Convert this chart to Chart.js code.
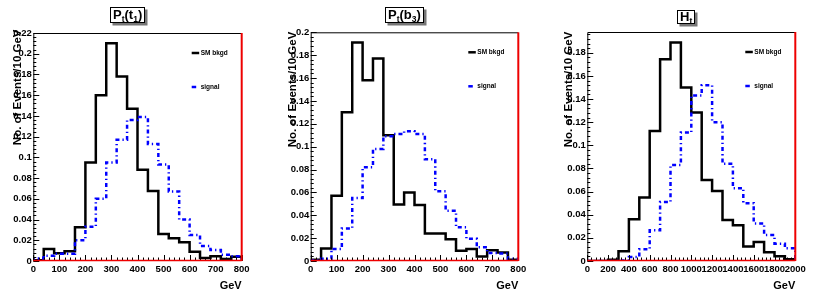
<!DOCTYPE html>
<html>
<head>
<meta charset="utf-8">
<script src="https://cdn.jsdelivr.net/npm/chart.js@4.4.1/dist/chart.umd.min.js"></script>
<style>
  body { margin: 0; background: #fff; width: 830px; height: 293px; overflow: hidden; position: relative; font-family: "Liberation Sans", Arial, sans-serif; }
  canvas { position: absolute; top: 0; }
  .ttl { position: absolute; background: #fff; border: 1px solid #000; box-shadow: 2.5px 2.5px 0 #777;
         font: bold 13px "Liberation Sans", Arial, sans-serif; line-height: 14px; padding: 0 2px; white-space: nowrap; }
  .ttl sub { font-size: 8.5px; vertical-align: -3px; line-height: 0; }
</style>
</head>
<body>
<canvas id="c1" width="277" height="293" style="left:0px"></canvas>
<canvas id="c2" width="277" height="293" style="left:277px"></canvas>
<canvas id="c3" width="277" height="293" style="left:553px"></canvas>
<div class="ttl" style="left:110px;top:7px">P<sub>t</sub>(t<sub>1</sub>)</div>
<div class="ttl" style="left:385px;top:7px">P<sub>t</sub>(b<sub>3</sub>)</div>
<div class="ttl" style="left:677px;top:10px;line-height:12px">H<sub>t</sub></div>
<script>
// bin edges (GeV)
var ptT1Edges = [0, 40, 80, 120, 160, 200, 240, 280, 320, 360, 400, 440, 480, 520, 560, 600, 640, 680, 720, 760, 800];
var ptB3Edges = [0, 40, 80, 120, 160, 200, 240, 280, 320, 360, 400, 440, 480, 520, 560, 600, 640, 680, 720, 760, 800];
var htEdges = [0, 100, 200, 300, 400, 500, 600, 700, 800, 900, 1000, 1100, 1200, 1300, 1400, 1500, 1600, 1700, 1800, 1900, 2000];

// Pt(t1)
var ptT1Bkgd = [0.0008, 0.0115, 0.0075, 0.0095, 0.0325, 0.095, 0.160, 0.210, 0.178, 0.147, 0.088, 0.0675, 0.026, 0.022, 0.018, 0.009, 0.003, 0.0045, 0.002, 0.004];
var ptT1Signal = [0.0025, 0.005, 0.007, 0.007, 0.020, 0.033, 0.060, 0.095, 0.117, 0.136, 0.139, 0.113, 0.093, 0.067, 0.040, 0.025, 0.0145, 0.0105, 0.006, 0.0045];

// Pt(b3)
var ptB3Bkgd = [0.001, 0.011, 0.057, 0.130, 0.191, 0.158, 0.177, 0.110, 0.0495, 0.060, 0.049, 0.024, 0.024, 0.019, 0.009, 0.0105, 0.004, 0.0095, 0.0075, 0.001];
var ptB3Signal = [0.0005, 0.002, 0.0105, 0.0285, 0.055, 0.082, 0.098, 0.109, 0.111, 0.1135, 0.111, 0.089, 0.061, 0.044, 0.0295, 0.0195, 0.012, 0.007, 0.0065, 0.002];

// Ht
var htBkgd = [0, 0, 0.001, 0.0085, 0.036, 0.055, 0.1125, 0.1745, 0.189, 0.150, 0.1285, 0.070, 0.0605, 0.0355, 0.031, 0.0125, 0.0165, 0.0075, 0.004, 0.0015];
var htSignal = [0, 0, 0, 0.0005, 0.0035, 0.0101, 0.0265, 0.051, 0.083, 0.111, 0.143, 0.152, 0.120, 0.084, 0.063, 0.050, 0.0325, 0.0225, 0.015, 0.011];

// axis tick labels
var ptXTicks = [0, 100, 200, 300, 400, 500, 600, 700, 800];
var htXTicks = [0, 200, 400, 600, 800, 1000, 1200, 1400, 1600, 1800, 2000];
var ptT1YTicks = [0, 0.02, 0.04, 0.06, 0.08, 0.1, 0.12, 0.14, 0.16, 0.18, 0.2, 0.22];
var ptB3YTicks = [0, 0.02, 0.04, 0.06, 0.08, 0.1, 0.12, 0.14, 0.16, 0.18, 0.2];
var htYTicks = [0, 0.02, 0.04, 0.06, 0.08, 0.1, 0.12, 0.14, 0.16, 0.18];

var seriesNames = ['SM bkgd', 'signal'];
var yTitle = 'No. of Events/10 GeV';
var xTitle = 'GeV';

var FONT = '"Liberation Sans", Arial, sans-serif';

// histogram outline points for a stepped line
function histPoints(edges, vals) {
  var pts = [{ x: edges[0], y: 0 }];
  vals.forEach(function (v, i) { pts.push({ x: edges[i], y: v }); });
  pts.push({ x: edges[edges.length - 1], y: 0 });
  return pts;
}

// ROOT-like frame, inward ticks, legend and axis titles
var rootPlugin = {
  id: 'rootFrame',
  afterDatasetsDraw: function (chart, args, o) {
    var ctx = chart.ctx, a = chart.chartArea, x = chart.scales.x, y = chart.scales.y;
    ctx.save();
    ctx.strokeStyle = '#000';
    ctx.lineWidth = 1;
    ctx.beginPath();
    var i, v, p, len;
    for (i = 0; ; i++) {
      v = x.min + i * o.xMinor;
      if (v > x.max + 1e-9) break;
      p = Math.round(x.getPixelForValue(v)) + 0.5;
      len = i % 5 === 0 ? 6 : 3.5;
      ctx.moveTo(p, a.bottom);
      ctx.lineTo(p, a.bottom - len);
    }
    for (i = 0; ; i++) {
      v = i * o.yMinor;
      if (v > y.max + 1e-9) break;
      p = Math.round(y.getPixelForValue(v)) + 0.5;
      len = i % 5 === 0 ? 6 : 3;
      ctx.moveTo(a.left, p);
      ctx.lineTo(a.left + len, p);
    }
    ctx.stroke();

    // frame
    ctx.beginPath();
    ctx.moveTo(a.left + 0.5, a.bottom);
    ctx.lineTo(a.left + 0.5, a.top + 0.5);
    ctx.lineTo(a.right, a.top + 0.5);
    ctx.stroke();
    ctx.strokeStyle = '#ee0000';
    ctx.lineWidth = 2;
    ctx.beginPath();
    ctx.moveTo(a.right, a.top);
    ctx.lineTo(a.right, a.bottom);
    ctx.stroke();
    ctx.lineWidth = 1.5;
    ctx.beginPath();
    ctx.moveTo(a.left, a.bottom - 0.5);
    ctx.lineTo(a.right, a.bottom - 0.5);
    ctx.stroke();

    // legend
    var ds = chart.data.datasets;
    var legY = [a.top + 20, a.top + 54];
    ctx.font = 'bold 6.5px ' + FONT;
    ctx.textBaseline = 'middle';
    ctx.textAlign = 'left';
    ctx.fillStyle = '#000';
    ctx.lineWidth = 2.5;
    ctx.strokeStyle = ds[0].borderColor;
    ctx.beginPath();
    ctx.moveTo(a.right - 50, legY[0]);
    ctx.lineTo(a.right - 42.5, legY[0]);
    ctx.stroke();
    ctx.fillText(ds[0].label, a.right - 41, legY[0]);
    ctx.strokeStyle = ds[1].borderColor;
    ctx.beginPath();
    ctx.moveTo(a.right - 50, legY[1]);
    ctx.lineTo(a.right - 45.5, legY[1]);
    ctx.stroke();
    ctx.fillText(ds[1].label, a.right - 41, legY[1]);

    // x title
    ctx.font = 'bold 11px ' + FONT;
    ctx.textAlign = 'right';
    ctx.textBaseline = 'top';
    ctx.fillText(xTitle, a.right, a.bottom + 19);

    // y title
    ctx.save();
    ctx.translate(a.left - o.yTitleGap, o.yTitleEnd);
    ctx.rotate(-Math.PI / 2);
    ctx.font = 'bold 11.5px ' + FONT;
    ctx.textAlign = 'right';
    ctx.textBaseline = 'alphabetic';
    ctx.fillText(yTitle, 0, 0);
    ctx.restore();

    ctx.restore();
  }
};

function makeHist(id, p) {
  var W = 277, H = 293;
  return new Chart(document.getElementById(id), {
    type: 'line',
    data: {
      datasets: [{
        label: seriesNames[0],
        data: histPoints(p.edges, p.bkgd),
        borderColor: '#000000',
        borderWidth: 2.5,
        stepped: true,
        pointRadius: 0,
        fill: false,
        order: 2
      }, {
        label: seriesNames[1],
        data: histPoints(p.edges, p.signal),
        borderColor: '#0000ff',
        borderWidth: 2.5,
        borderDash: [4, 3, 1.3, 3],
        stepped: true,
        pointRadius: 0,
        fill: false,
        order: 1
      }]
    },
    options: {
      responsive: false,
      animation: false,
      events: [],
      layout: { padding: { left: 0, top: p.top, right: W - p.right, bottom: 0 } },
      plugins: {
        legend: { display: false },
        tooltip: { enabled: false },
        rootFrame: { xMinor: p.xMinor, yMinor: 0.004, yTitleGap: p.yTitleGap, yTitleEnd: p.yTitleEnd }
      },
      scales: {
        x: {
          type: 'linear',
          min: p.edges[0],
          max: p.edges[p.edges.length - 1],
          grid: { display: false, drawTicks: false },
          border: { display: false },
          afterFit: function (s) { s.height = H - 261; },
          afterBuildTicks: function (s) { s.ticks = p.xTicks.map(function (v) { return { value: v }; }); },
          ticks: {
            autoSkip: false, maxRotation: 0, minRotation: 0, padding: 3, color: '#000',
            font: { family: FONT, size: 9.5, weight: 'bold' },
            callback: function (v) { return String(v); }
          }
        },
        y: {
          type: 'linear',
          min: 0,
          max: p.yMax,
          grid: { display: false, drawTicks: false },
          border: { display: false },
          afterFit: function (s) { s.width = p.left; },
          afterBuildTicks: function (s) { s.ticks = p.yTicks.map(function (v) { return { value: v }; }); },
          ticks: {
            padding: 1.5, color: '#000',
            font: { family: FONT, size: 9.5, weight: 'bold' },
            callback: function (v) { return String(+v.toFixed(3)); }
          }
        }
      }
    },
    plugins: [rootPlugin]
  });
}

makeHist('c1', { edges: ptT1Edges, bkgd: ptT1Bkgd, signal: ptT1Signal, xTicks: ptXTicks, yTicks: ptT1YTicks,
  yMax: 0.22, xMinor: 20, left: 33.3, right: 241.7, top: 33, yTitleGap: 12.6, yTitleEnd: 29.5 });
makeHist('c2', { edges: ptB3Edges, bkgd: ptB3Bkgd, signal: ptB3Signal, xTicks: ptXTicks, yTicks: ptB3YTicks,
  yMax: 0.2, xMinor: 20, left: 33.7, right: 241.3, top: 32.3, yTitleGap: 15.2, yTitleEnd: 31.7 });
makeHist('c3', { edges: htEdges, bkgd: htBkgd, signal: htSignal, xTicks: htXTicks, yTicks: htYTicks,
  yMax: 0.198, xMinor: 40, left: 34.3, right: 242.3, top: 32, yTitleGap: 15.6, yTitleEnd: 31.7 });
</script>
</body>
</html>
